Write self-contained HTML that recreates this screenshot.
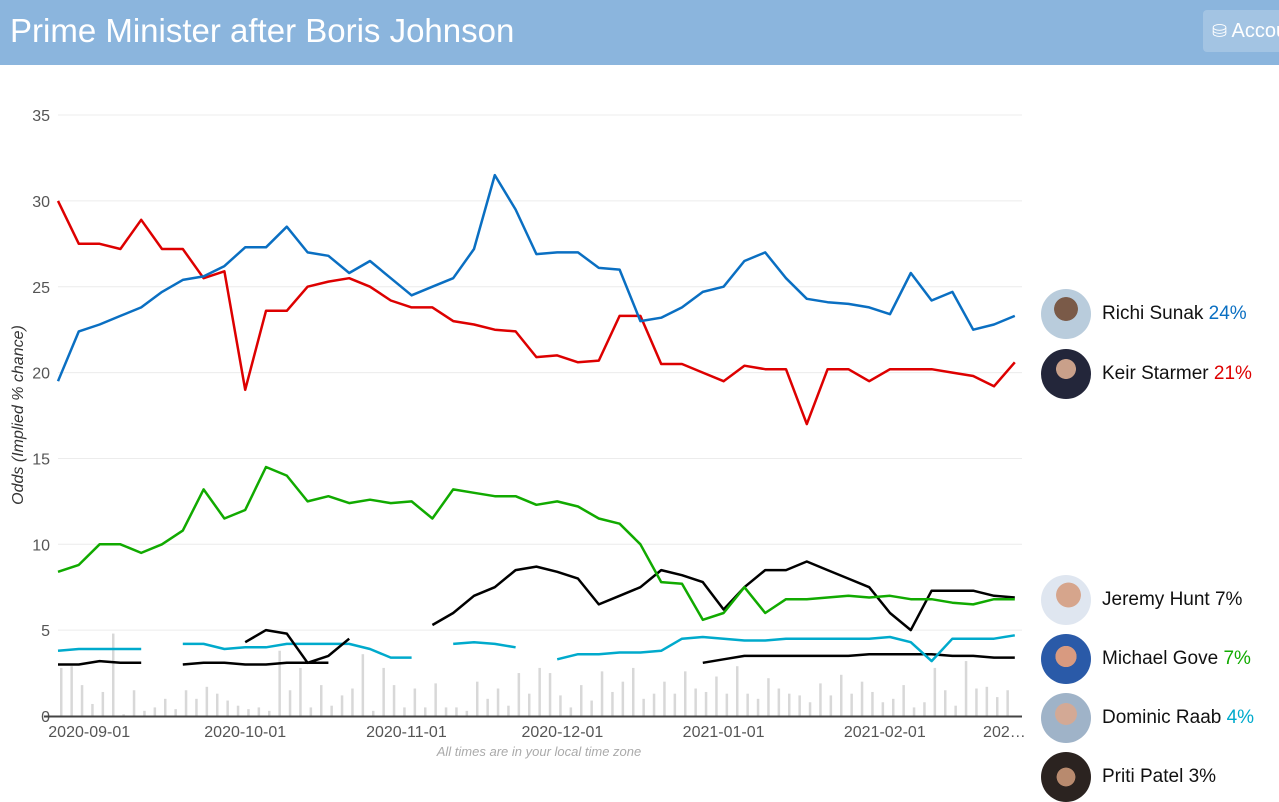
<!DOCTYPE html>
<html><head><meta charset="utf-8">
<style>
body{margin:0;width:1279px;height:788px;overflow:hidden;background:#fff;font-family:"Liberation Sans",sans-serif;position:relative}
#hdr{position:absolute;left:0;top:0;width:1279px;height:65px;background:#8bb5dd}
#title{position:absolute;left:10px;top:12px;color:#fff;font-size:33px;white-space:nowrap}
#acc{position:absolute;left:1203px;top:10px;width:90px;height:42px;background:#a3c4e3;border-radius:4px;color:#fff;font-size:20px;line-height:42px;white-space:nowrap;overflow:hidden}
.leg{position:absolute;left:1041px;height:50px;display:flex;align-items:center;font-size:19px;color:#111}
.av{width:50px;height:50px;border-radius:50%;margin-right:11px;flex:none}
</style></head><body>
<div id="hdr">
<div id="title">Prime Minister after Boris Johnson</div>
<div id="acc"><span style="margin-left:9px;font-size:18px">&#9921;</span> Account</div>
</div>
<svg id="chart" width="1030" height="788" style="position:absolute;left:0;top:0"></svg>
<div class="leg" style="top:289px"><div class="av" style="background:radial-gradient(circle at 50% 40%,#7a5a48 0 30%,#b9ccdc 31%)"></div>Richi Sunak&nbsp;<span style="color:#0a6fc2">24%</span></div>
<div class="leg" style="top:349px"><div class="av" style="background:radial-gradient(circle at 50% 40%,#c9a08a 0 25%,#23263a 26%)"></div>Keir Starmer&nbsp;<span style="color:#dd0000">21%</span></div>
<div class="leg" style="top:575px"><div class="av" style="background:radial-gradient(circle at 55% 40%,#d6a58c 0 30%,#dfe6f0 31%)"></div>Jeremy Hunt&nbsp;<span>7%</span></div>
<div class="leg" style="top:634px"><div class="av" style="background:radial-gradient(circle at 50% 45%,#d89a80 0 28%,#2a5aa8 29%)"></div>Michael Gove&nbsp;<span style="color:#11aa00">7%</span></div>
<div class="leg" style="top:693px"><div class="av" style="background:radial-gradient(circle at 50% 42%,#d3a995 0 28%,#9fb3c8 29%)"></div>Dominic Raab&nbsp;<span style="color:#00aacc">4%</span></div>
<div class="leg" style="top:752px"><div class="av" style="background:radial-gradient(circle at 50% 50%,#b88a6e 0 26%,#2b2320 27%)"></div>Priti Patel&nbsp;<span>3%</span></div>
<script>
const sunak=[19.5,22.4,22.8,23.3,23.8,24.7,25.4,25.6,26.2,27.3,27.3,28.5,27.0,26.8,25.8,26.5,25.5,24.5,25.0,25.5,27.2,31.5,29.5,26.9,27.0,27.0,26.1,26.0,23.0,23.2,23.8,24.7,25.0,26.5,27.0,25.5,24.3,24.1,24.0,23.8,23.4,25.8,24.2,24.7,22.5,22.8,23.3];
const starmer=[30.0,27.5,27.5,27.2,28.9,27.2,27.2,25.5,25.9,19.0,23.6,23.6,25.0,25.3,25.5,25.0,24.2,23.8,23.8,23.0,22.8,22.5,22.4,20.9,21.0,20.6,20.7,23.3,23.3,20.5,20.5,20.0,19.5,20.4,20.2,20.2,17.0,20.2,20.2,19.5,20.2,20.2,20.2,20.0,19.8,19.2,20.6];
const gove=[8.4,8.8,10.0,10.0,9.5,10.0,10.8,13.2,11.5,12.0,14.5,14.0,12.5,12.8,12.4,12.6,12.4,12.5,11.5,13.2,13.0,12.8,12.8,12.3,12.5,12.2,11.5,11.2,10.0,7.8,7.7,5.6,6.0,7.5,6.0,6.8,6.8,6.9,7.0,6.9,7.0,6.8,6.8,6.6,6.5,6.8,6.8];
const hunt=[null,null,null,null,null,null,null,null,null,4.3,5.0,4.8,3.1,3.5,4.5,null,null,null,5.3,6.0,7.0,7.5,8.5,8.7,8.4,8.0,6.5,7.0,7.5,8.5,8.2,7.8,6.2,7.5,8.5,8.5,9.0,8.5,8.0,7.5,6.0,5.0,7.3,7.3,7.3,7.0,6.9];
const raab=[3.8,3.9,3.9,3.9,3.9,null,4.2,4.2,3.9,4.0,4.0,4.2,4.2,4.2,4.2,3.9,3.4,3.4,null,4.2,4.3,4.2,4.0,null,3.3,3.6,3.6,3.7,3.7,3.8,4.5,4.6,4.5,4.4,4.4,4.5,4.5,4.5,4.5,4.5,4.6,4.3,3.2,4.5,4.5,4.5,4.7];
const patel=[3.0,3.0,3.2,3.1,3.1,null,3.0,3.1,3.1,3.0,3.0,3.1,3.1,3.1,null,null,null,null,null,null,null,null,null,null,null,null,null,null,null,null,null,3.1,3.3,3.5,3.5,3.5,3.5,3.5,3.5,3.6,3.6,3.6,3.6,3.5,3.5,3.4,3.4];
const volume=[2.8,2.9,1.8,0.7,1.4,4.8,0.1,1.5,0.3,0.5,1.0,0.4,1.5,1.0,1.7,1.3,0.9,0.6,0.4,0.5,0.3,3.8,1.5,2.8,0.5,1.8,0.6,1.2,1.6,3.6,0.3,2.8,1.8,0.5,1.6,0.5,1.9,0.5,0.5,0.3,2.0,1.0,1.6,0.6,2.5,1.3,2.8,2.5,1.2,0.5,1.8,0.9,2.6,1.4,2.0,2.8,1.0,1.3,2.0,1.3,2.6,1.6,1.4,2.3,1.3,2.9,1.3,1.0,2.2,1.6,1.3,1.2,0.8,1.9,1.2,2.4,1.3,2.0,1.4,0.8,1.0,1.8,0.5,0.8,2.8,1.5,0.6,3.2,1.6,1.7,1.1,1.5];
const yTicks=[0,5,10,15,20,25,30,35];
const xTickLabels=["2020-09-01","2020-10-01","2020-11-01","2020-12-01","2021-01-01","2021-02-01","202…"];
const xTickDays=[6,36,67,97,128,159,182];
const STEP=4;
const svg=document.getElementById('chart');const NS='http://www.w3.org/2000/svg';
const X0=58,PXD=5.2,Y0=716,PXU=17.17;
const xs=d=>X0+d*PXD, ys=v=>Y0-v*PXU;
function mk(t,a){const e=document.createElementNS(NS,t);for(const k in a)e.setAttribute(k,a[k]);svg.appendChild(e);return e;}
yTicks.forEach(v=>{
 const g=mk('line',{x1:58,x2:1022,y1:ys(v),y2:ys(v),stroke:'#ececec','stroke-width':1});
 
 
 const t=mk('text',{x:50,y:ys(v)+6,'text-anchor':'end','font-size':16,fill:'#555'});t.textContent=v;
 
 
});
volume.forEach((v,i)=>{
 const b=mk('rect',{x:xs(i*2)+2,y:ys(v),width:2.5,height:v*PXU,fill:'#d8d8d8'});
 
 
});
const ax=mk('line',{x1:44,x2:1022,y1:716.5,y2:716.5,stroke:'#444','stroke-width':2});


xTickLabels.forEach((l,i)=>{
 const t=mk('text',{x:xs(xTickDays[i]),y:737,'text-anchor':'middle','font-size':16,fill:'#555'});t.textContent=l;
 
 
});
function series(arr,col,name){
 let d='',pen=false;
 arr.forEach((v,i)=>{if(v==null){pen=false;return;}d+=(pen?'L':'M')+xs(i*STEP).toFixed(1)+' '+ys(v).toFixed(1)+' ';pen=true;});
 const p=mk('path',{d:d,fill:'none',stroke:col,'stroke-width':2.5,'stroke-linejoin':'round'});
 
 
}
series(patel,'#000','patel-line');
series(raab,'#00aacc','raab-line');
series(hunt,'#000','hunt-line');
series(gove,'#11aa00','gove-line');
series(starmer,'#dd0000','starmer-line');
series(sunak,'#0a6fc2','sunak-line');
const yt=mk('text',{transform:'translate(23,415) rotate(-90)','text-anchor':'middle','font-size':16,'font-style':'italic',fill:'#333'});yt.textContent='Odds (Implied % chance)';


const tz=mk('text',{x:539,y:756,'text-anchor':'middle','font-size':13,'font-style':'italic',fill:'#aaa'});tz.textContent='All times are in your local time zone';


</script>
</body></html>
